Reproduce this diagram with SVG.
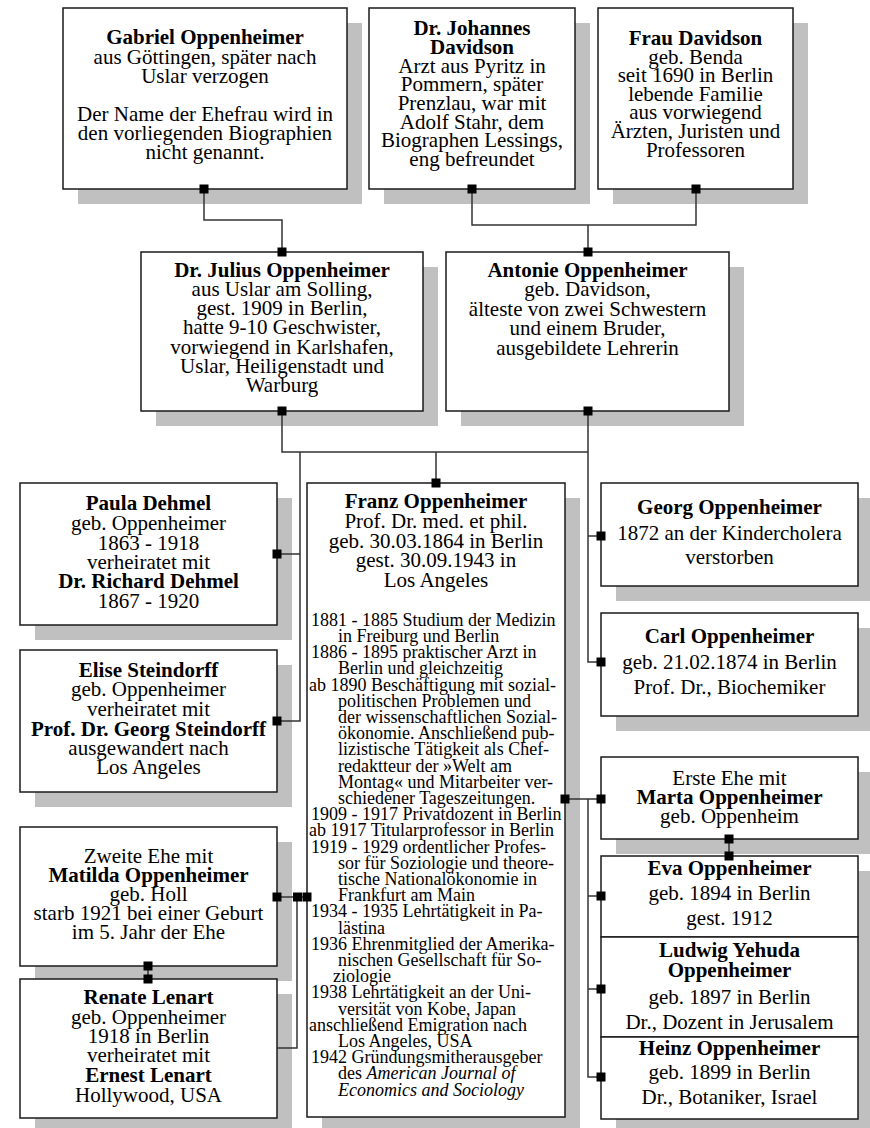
<svg xmlns="http://www.w3.org/2000/svg" width="870" height="1128" viewBox="0 0 870 1128">
<style>
.sh{fill:#c0c0c0}
.box{fill:#fff;stroke:#1a1a1a;stroke-width:1.5}
.t{font-family:"Liberation Serif","Times New Roman",serif;font-size:21px;fill:#000;text-anchor:middle}
.b{font-weight:bold}
.bio{font-family:"Liberation Serif","Times New Roman",serif;font-size:18px;fill:#000}
.c{fill:none;stroke:#333;stroke-width:1.5}
.sq{fill:#000}
</style>
<rect width="870" height="1128" fill="#fff"/>

<g id="gabriel">
<rect class="sh" x="78" y="23" width="284" height="181"/>
<rect class="box" x="63" y="8" width="284" height="181"/>
<text class="t"><tspan class="b" x="205" y="44">Gabriel Oppenheimer</tspan><tspan x="205" y="63.5">aus Göttingen, später nach</tspan><tspan x="205" y="83">Uslar verzogen</tspan><tspan x="205" y="120.5">Der Name der Ehefrau wird in</tspan><tspan x="205" y="139.5">den vorliegenden Biographien</tspan><tspan x="205" y="158.5">nicht genannt.</tspan></text>
</g>

<g id="johannes">
<rect class="sh" x="384" y="23" width="206" height="181"/>
<rect class="box" x="369" y="8" width="206" height="181"/>
<text class="t"><tspan class="b" x="472" y="35">Dr. Johannes</tspan><tspan class="b" x="472" y="54">Davidson</tspan><tspan x="472" y="72.5">Arzt aus Pyritz in</tspan><tspan x="472" y="91">Pommern, später</tspan><tspan x="472" y="110">Prenzlau, war mit</tspan><tspan x="472" y="128.5">Adolf Stahr, dem</tspan><tspan x="472" y="147">Biographen Lessings,</tspan><tspan x="472" y="165.5">eng befreundet</tspan></text>
</g>

<g id="fraudavidson">
<rect class="sh" x="613" y="23" width="195" height="181"/>
<rect class="box" x="598" y="8" width="195" height="181"/>
<text class="t"><tspan class="b" x="695.5" y="45">Frau Davidson</tspan><tspan x="695.5" y="63.5">geb. Benda</tspan><tspan x="695.5" y="82">seit 1690 in Berlin</tspan><tspan x="695.5" y="100.5">lebende Familie</tspan><tspan x="695.5" y="119">aus vorwiegend</tspan><tspan x="695.5" y="138">Ärzten, Juristen und</tspan><tspan x="695.5" y="156.5">Professoren</tspan></text>
</g>

<g id="julius">
<rect class="sh" x="156" y="267" width="282" height="159"/>
<rect class="box" x="141" y="252" width="282" height="159"/>
<text class="t"><tspan class="b" x="282" y="277">Dr. Julius Oppenheimer</tspan><tspan x="282" y="296">aus Uslar am Solling,</tspan><tspan x="282" y="315">gest. 1909 in Berlin,</tspan><tspan x="282" y="334">hatte 9-10 Geschwister,</tspan><tspan x="282" y="353.5">vorwiegend in Karlshafen,</tspan><tspan x="282" y="372.5">Uslar, Heiligenstadt und</tspan><tspan x="282" y="391.5">Warburg</tspan></text>
</g>

<g id="antonie">
<rect class="sh" x="461" y="267" width="283" height="159"/>
<rect class="box" x="446" y="252" width="283" height="159"/>
<text class="t"><tspan class="b" x="587.5" y="277">Antonie Oppenheimer</tspan><tspan x="587.5" y="296">geb. Davidson,</tspan><tspan x="587.5" y="316">älteste von zwei Schwestern</tspan><tspan x="587.5" y="335">und einem Bruder,</tspan><tspan x="587.5" y="355">ausgebildete Lehrerin</tspan></text>
</g>

<g id="paula">
<rect class="sh" x="35" y="498" width="257" height="142"/>
<rect class="box" x="20" y="483" width="257" height="142"/>
<text class="t"><tspan class="b" x="148.5" y="510">Paula Dehmel</tspan><tspan x="148.5" y="530">geb. Oppenheimer</tspan><tspan x="148.5" y="549.5">1863 - 1918</tspan><tspan x="148.5" y="568.5">verheiratet mit</tspan><tspan class="b" x="148.5" y="588">Dr. Richard Dehmel</tspan><tspan x="148.5" y="607.5">1867 - 1920</tspan></text>
</g>

<g id="elise">
<rect class="sh" x="35" y="665" width="257" height="142"/>
<rect class="box" x="20" y="650" width="257" height="142"/>
<text class="t"><tspan class="b" x="148.5" y="677">Elise Steindorff</tspan><tspan x="148.5" y="696">geb. Oppenheimer</tspan><tspan x="148.5" y="716">verheiratet mit</tspan><tspan class="b" x="148.5" y="736">Prof. Dr. Georg Steindorff</tspan><tspan x="148.5" y="755">ausgewandert nach</tspan><tspan x="148.5" y="773.5">Los Angeles</tspan></text>
</g>

<g id="matilda">
<rect class="sh" x="35" y="842" width="257" height="139"/>
<rect class="box" x="20" y="827" width="257" height="139"/>
<text class="t"><tspan x="148.5" y="863">Zweite Ehe mit</tspan><tspan class="b" x="148.5" y="882">Matilda Oppenheimer</tspan><tspan x="148.5" y="901">geb. Holl</tspan><tspan x="148.5" y="920">starb 1921 bei einer Geburt</tspan><tspan x="148.5" y="938.5">im 5. Jahr der Ehe</tspan></text>
</g>

<g id="renate">
<rect class="sh" x="35" y="994" width="257" height="139"/>
<rect class="box" x="20" y="979" width="257" height="139"/>
<text class="t"><tspan class="b" x="148.5" y="1004">Renate Lenart</tspan><tspan x="148.5" y="1023.5">geb. Oppenheimer</tspan><tspan x="148.5" y="1043">1918 in Berlin</tspan><tspan x="148.5" y="1062">verheiratet mit</tspan><tspan class="b" x="148.5" y="1082">Ernest Lenart</tspan><tspan x="148.5" y="1101.5">Hollywood, USA</tspan></text>
</g>

<g id="franz">
<rect class="sh" x="322" y="498" width="258" height="634"/>
<rect class="box" x="307" y="483" width="258" height="634"/>
<text class="t"><tspan class="b" x="436" y="508">Franz Oppenheimer</tspan><tspan x="436" y="527.5">Prof. Dr. med. et phil.</tspan><tspan x="436" y="547.5">geb. 30.03.1864 in Berlin</tspan><tspan x="436" y="567">gest. 30.09.1943 in</tspan><tspan x="436" y="587">Los Angeles</tspan></text>
<text class="bio">
<tspan x="311" y="625.7">1881 - 1885 Studium der Medizin</tspan>
<tspan x="338" y="641.9">in Freiburg und Berlin</tspan>
<tspan x="311" y="658.1">1886 - 1895 praktischer Arzt in</tspan>
<tspan x="338" y="674.3">Berlin und gleichzeitig</tspan>
<tspan x="309" y="690.5">ab 1890 Beschäftigung mit sozial-</tspan>
<tspan x="338" y="706.7">politischen Problemen und</tspan>
<tspan x="338" y="722.9">der wissenschaftlichen Sozial-</tspan>
<tspan x="338" y="739.1">ökonomie. Anschließend pub-</tspan>
<tspan x="338" y="755.3">lizistische Tätigkeit als Chef-</tspan>
<tspan x="338" y="771.5">redaktteur der »Welt am</tspan>
<tspan x="338" y="787.7">Montag« und Mitarbeiter ver-</tspan>
<tspan x="338" y="803.9">schiedener Tageszeitungen.</tspan>
<tspan x="311" y="820.1">1909 - 1917 Privatdozent in Berlin</tspan>
<tspan x="309" y="836.3">ab 1917 Titularprofessor in Berlin</tspan>
<tspan x="311" y="852.5">1919 - 1929 ordentlicher Profes-</tspan>
<tspan x="338" y="868.7">sor für Soziologie und theore-</tspan>
<tspan x="338" y="884.9">tische Nationalökonomie in</tspan>
<tspan x="338" y="901.1">Frankfurt am Main</tspan>
<tspan x="311" y="917.3">1934 - 1935 Lehrtätigkeit in Pa-</tspan>
<tspan x="338" y="933.5">lästina</tspan>
<tspan x="311" y="949.7">1936 Ehrenmitglied der Amerika-</tspan>
<tspan x="338" y="965.9">nischen Gesellschaft für So-</tspan>
<tspan x="333" y="982.1">ziologie</tspan>
<tspan x="311" y="998.3">1938 Lehrtätigkeit an der Uni-</tspan>
<tspan x="338" y="1014.5">versität von Kobe, Japan</tspan>
<tspan x="309" y="1030.7">anschließend Emigration nach</tspan>
<tspan x="338" y="1046.9">Los Angeles, USA</tspan>
<tspan x="311" y="1063.1">1942 Gründungsmitherausgeber</tspan>
<tspan x="338" y="1079.3">des <tspan font-style="italic">American Journal of</tspan></tspan>
<tspan x="338" y="1095.5" font-style="italic">Economics and Sociology</tspan>
</text>
</g>

<g id="georg">
<rect class="sh" x="616" y="498" width="257" height="103"/>
<rect class="box" x="601" y="483" width="257" height="103"/>
<text class="t"><tspan class="b" x="729.5" y="513.5">Georg Oppenheimer</tspan><tspan x="729.5" y="539.5">1872 an der Kindercholera</tspan><tspan x="729.5" y="564">verstorben</tspan></text>
</g>

<g id="carl">
<rect class="sh" x="616" y="628" width="257" height="103"/>
<rect class="box" x="601" y="613" width="257" height="103"/>
<text class="t"><tspan class="b" x="729.5" y="643">Carl Oppenheimer</tspan><tspan x="729.5" y="668.5">geb. 21.02.1874 in Berlin</tspan><tspan x="729.5" y="693.5">Prof. Dr., Biochemiker</tspan></text>
</g>

<g id="marta">
<rect class="sh" x="616" y="772" width="257" height="82"/>
<rect class="box" x="601" y="757" width="257" height="82"/>
<text class="t"><tspan x="729.5" y="784.5">Erste Ehe mit</tspan><tspan class="b" x="729.5" y="803.5">Marta Oppenheimer</tspan><tspan x="729.5" y="822.5">geb. Oppenheim</tspan></text>
</g>

<g id="eva">
<rect class="sh" x="616" y="871" width="257" height="81"/>
<rect class="box" x="601" y="856" width="257" height="81"/>
<text class="t"><tspan class="b" x="729.5" y="875">Eva Oppenheimer</tspan><tspan x="729.5" y="899.5">geb. 1894 in Berlin</tspan><tspan x="729.5" y="925">gest. 1912</tspan></text>
</g>

<g id="ludwig">
<rect class="sh" x="616" y="952" width="257" height="100"/>
<rect class="box" x="601" y="937" width="257" height="100"/>
<text class="t"><tspan class="b" x="729.5" y="957">Ludwig Yehuda</tspan><tspan class="b" x="729.5" y="977">Oppenheimer</tspan><tspan x="729.5" y="1003.5">geb. 1897 in Berlin</tspan><tspan x="729.5" y="1028.5">Dr., Dozent in Jerusalem</tspan></text>
</g>

<g id="heinz">
<rect class="sh" x="616" y="1052" width="257" height="82"/>
<rect class="box" x="601" y="1037" width="257" height="82"/>
<text class="t"><tspan class="b" x="729.5" y="1055">Heinz Oppenheimer</tspan><tspan x="729.5" y="1079">geb. 1899 in Berlin</tspan><tspan x="729.5" y="1104">Dr., Botaniker, Israel</tspan></text>
</g>

<g id="connectors">
<path class="c" d="M204 189V220H282V252"/>
<path class="c" d="M472 189V225H696V189M588 225V252"/>
<path class="c" d="M282 411V452H588V411M588 452V662H601M588 536H601M300 452V721H277M277 554H300M436 452V483"/>
<path class="c" d="M565 799H601M588 799V1077H601M588 896H601M588 989H601"/>
<path class="c" d="M277 897H307M297 897V1048H277"/>
<path class="c" d="M148 966V979M729 839V856"/>
<g class="sq">
<rect x="199.5" y="184.5" width="9" height="9"/>
<rect x="277.5" y="247.5" width="9" height="9"/>
<rect x="467.5" y="184.5" width="9" height="9"/>
<rect x="691.5" y="184.5" width="9" height="9"/>
<rect x="583.5" y="247.5" width="9" height="9"/>
<rect x="277.5" y="406.5" width="9" height="9"/>
<rect x="583.5" y="406.5" width="9" height="9"/>
<rect x="431.5" y="478.5" width="9" height="9"/>
<rect x="272.5" y="549.5" width="9" height="9"/>
<rect x="272.5" y="716.5" width="9" height="9"/>
<rect x="596.5" y="531.5" width="9" height="9"/>
<rect x="596.5" y="657.5" width="9" height="9"/>
<rect x="560.5" y="794.5" width="9" height="9"/>
<rect x="596.5" y="794.5" width="9" height="9"/>
<rect x="596.5" y="891.5" width="9" height="9"/>
<rect x="596.5" y="984.5" width="9" height="9"/>
<rect x="596.5" y="1072.5" width="9" height="9"/>
<rect x="724.5" y="834.5" width="9" height="9"/>
<rect x="724.5" y="851.5" width="9" height="9"/>
<rect x="272.5" y="892.5" width="9" height="9"/>
<rect x="293" y="892.5" width="9" height="9"/>
<rect x="302.5" y="892.5" width="9" height="9"/>
<rect x="143.5" y="961.5" width="9" height="9"/>
<rect x="143.5" y="974.5" width="9" height="9"/>
</g>
</g>
</svg>
